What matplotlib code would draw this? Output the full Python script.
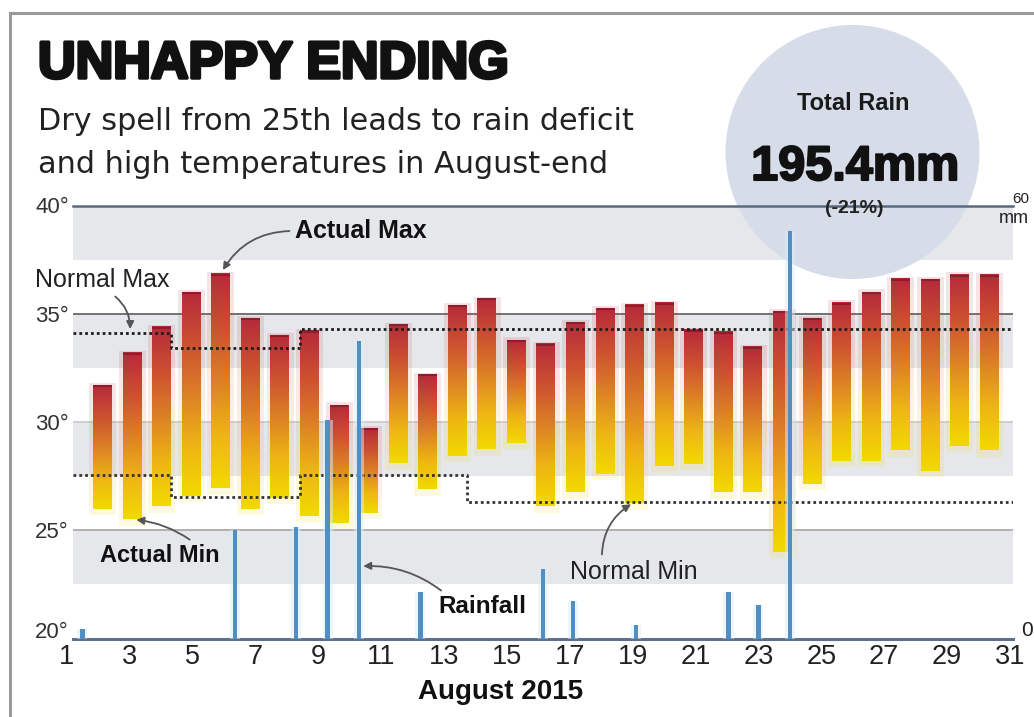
import numpy as np
import matplotlib.pyplot as plt
import matplotlib.patheffects as pe
from matplotlib.colors import LinearSegmentedColormap
from matplotlib.patches import Circle
from matplotlib.lines import Line2D
from matplotlib.transforms import ScaledTranslation

# daily max / min temperature (deg C), August 2015
days = np.arange(1, 32)
t_max = [31.7, 33.2, 34.4, 36.0, 36.85, 34.8, 34.0, 34.2, 30.8, 29.7, 34.5, 32.2, 35.4, 35.7,
         33.8, 33.6, 34.6, 35.25, 35.4, 35.5, 34.25, 34.15, 33.45, 35.1, 34.8, 35.5, 36.0,
         36.6, 36.6, 36.8, 36.8]
t_min = [26.0, 25.5, 26.1, 26.6, 26.95, 26.0, 26.5, 25.65, 25.35, 25.8, 28.1, 26.9, 28.45, 28.75,
         29.05, 26.1, 26.75, 27.6, 26.25, 27.95, 28.05, 26.75, 26.75, 24.0, 27.15, 28.2, 28.2,
         28.7, 27.75, 28.9, 28.7]

# normal max / min, as runs of days
nmax_start = [1, 4, 8]
nmax_end = [3, 7, 31]
nmax_val = [34.1, 33.4, 34.3]
nmin_start = [1, 4, 8, 14]
nmin_end = [3, 7, 13, 31]
nmin_val = [27.55, 26.55, 27.55, 26.3]

# rainfall (mm), placed on the date axis as drawn
rain_day = [1.5, 6.35, 8.3, 9.3, 10.3, 12.25, 16.15, 17.1, 19.1, 22.05, 23.0, 24.0]
rain_mm = [1.3, 15.1, 15.5, 30.3, 41.2, 6.4, 9.6, 5.2, 1.9, 6.4, 4.7, 56.4]

xtick_days = list(range(1, 32, 2))
temp_ticks = [20, 25, 30, 35, 40]
bands = [(22.5, 25), (27.5, 30), (32.5, 35), (37.5, 40)]

bold = 'Liberation Sans'

W, H = 1034, 717
fig = plt.figure(figsize=(W / 100, H / 100), dpi=100)
fig.patch.set_facecolor('white')


def box(left, top, right, bottom):
    return [left / W, 1 - bottom / H, (right - left) / W, (bottom - top) / H]


def ftext(x, y, s, **kw):
    return fig.text(x / W, 1 - y / H, s, **kw)


ax = fig.add_axes(box(73, 205.5, 1013, 638.5))
ax_r = fig.add_axes(box(60.4, 205.5, 1016.2, 638.5))
ax_r.set_zorder(1)
ax_r.patch.set_visible(False)

# background bands and lines
for lo, hi in bands:
    ax.axhspan(lo, hi, color='#e6e7ea', lw=0, zorder=0)
ax.axhline(40, color='#5b6a80', lw=1.8, zorder=1.5, clip_on=False)
ax.axhline(35, color='#727272', lw=1.4, zorder=1.5)
ax.axhline(30, color='#cfcfcf', lw=1.4, zorder=1.5)
ax.axhline(25, color='#b0b0b0', lw=1.4, zorder=1.5)
ax.axhline(20, color='#5d7288', lw=2.2, zorder=5, clip_on=False)

# total rain bubble
bubble = Circle((8.525, (H - 152) / 100), 1.27, transform=fig.dpi_scale_trans,
                facecolor='#d6dce8', edgecolor='none', zorder=1, clip_on=False)
ax.add_artist(bubble)

# gradient temperature bars
cmap = LinearSegmentedColormap.from_list(
    'heat', ['#f2da00', '#eeb414', '#dc8026', '#cc5030', '#b52a3a'])
grad = np.linspace(0, 1, 256).reshape(-1, 1)
bw = 0.64
for d, lo, hi in zip(days, t_min, t_max):
    ax.imshow(grad, extent=[d - bw / 2 - 0.13, d + bw / 2 + 0.13, lo - 0.3, hi + 0.08],
              origin='lower', cmap=cmap, aspect='auto', alpha=0.13, zorder=2.5)
    ax.imshow(grad, extent=[d - bw / 2, d + bw / 2, lo, hi],
              origin='lower', cmap=cmap, aspect='auto', zorder=3)
    ax.plot([d - bw / 2, d + bw / 2], [hi - 0.04, hi - 0.04], color='#8e1e2c', lw=1.5,
            solid_capstyle='butt', zorder=3.1)


def step_line(starts, ends, vals):
    xs, ys = [], []
    for i in range(len(vals)):
        x0 = 0 if i == 0 else xs[-1]
        if i == len(vals) - 1:
            x1 = 31.8
        else:
            a = ends[i]
            x1 = a + bw / 2 if vals[i + 1] < vals[i] else a + 1 - bw / 2
        xs += [x0, x1]
        ys += [vals[i], vals[i]]
    return xs, ys


for st, en, vals, col in [(nmax_start, nmax_end, nmax_val, '#1e1e1e'),
                          (nmin_start, nmin_end, nmin_val, '#333333')]:
    xs, ys = step_line(st, en, vals)
    ax.plot(xs, ys, color=col, lw=2, linestyle=(0, (1, 1.1)), dash_capstyle='butt', zorder=4)

ax.set_xlim(0, 31.8)
ax.set_ylim(20, 40)
ax.set_xticks([])
ax.set_yticks(temp_ticks)
ax.set_yticklabels([f'{t}°' for t in temp_ticks], family=bold, fontsize=16, color='#333')
ax.tick_params(axis='y', length=0, pad=3)
# lift the bottom label clear of the day numbers
lbl20 = ax.get_yticklabels()[0]
lbl20.set_transform(lbl20.get_transform() + ScaledTranslation(0, 8 / 100, fig.dpi_scale_trans))
for s in ax.spines.values():
    s.set_visible(False)

# rainfall
ax_r.bar(rain_day, rain_mm, width=0.32, color='#dbeef9', alpha=0.5, lw=0, zorder=2)
ax_r.bar(rain_day, rain_mm, width=0.14, color='#4f8fc4', lw=0, zorder=3)
ax_r.set_xlim(0.8, 31.2)
ax_r.set_ylim(0, 60)
ax_r.set_yticks([])
ax_r.set_xticks(xtick_days)
ax_r.set_xticklabels([str(d) for d in xtick_days], family=bold, fontsize=19.5, color='#222')
ax_r.tick_params(axis='x', length=0, pad=4)
for s in ax_r.spines.values():
    s.set_visible(False)

# frame
fig.add_artist(Line2D([10 / W, 10 / W], [1 - 13 / H, 0], color='#999', lw=2.2))
fig.add_artist(Line2D([10 / W, 1], [1 - 13 / H, 1 - 13 / H], color='#999', lw=2.2))

# headline
ftext(38, 78, 'UNHAPPY ENDING', family=bold, fontweight='bold', fontsize=37.5, color='#111',
      va='baseline', path_effects=[pe.withStroke(linewidth=2.5, foreground='#111')])
ftext(38, 130, 'Dry spell from 25th leads to rain deficit', family='DejaVu Sans',
      fontsize=21.8, color='#222', va='baseline')
ftext(38, 173, 'and high temperatures in August-end', family='DejaVu Sans',
      fontsize=21.8, color='#222', va='baseline')

ftext(853, 110, 'Total Rain', family=bold, fontweight='bold', fontsize=17, color='#1a1a1a',
      ha='center', va='baseline')
ftext(855, 180, '195.4mm', family=bold, fontweight='bold', fontsize=35, color='#111',
      ha='center', va='baseline', path_effects=[pe.withStroke(linewidth=1.5, foreground='#111')])
ftext(854, 213, '(-21%)', family=bold, fontweight='bold', fontsize=14, color='#222',
      ha='center', va='baseline')

ftext(1012, 203, '60', family=bold, fontsize=11, color='#222', va='baseline')
ftext(999, 223, 'mm', family=bold, fontsize=13, color='#222', va='baseline')
ftext(1021, 636, '0', family=bold, fontsize=15, color='#222', va='baseline')

ftext(418, 699, 'August 2015', family=bold, fontweight='bold', fontsize=20, color='#111',
      va='baseline')

# callouts
arrow = dict(arrowstyle='-|>', color='#555', lw=1.3, mutation_scale=11, shrinkA=2, shrinkB=3)
ax.annotate('Actual Max', xy=(5, t_max[4]), xytext=(295, H - 238), textcoords='figure pixels',
            family=bold, fontweight='bold', fontsize=18, color='#111', va='baseline',
            arrowprops=dict(arrow, connectionstyle='arc3,rad=0.3', relpos=(0, 0.5)))
ax.annotate('Normal Max', xy=(1.93, nmax_val[0]), xytext=(35, H - 287), textcoords='figure pixels',
            family=bold, fontsize=18, color='#222', va='baseline',
            arrowprops=dict(arrow, connectionstyle='arc3,rad=-0.3', relpos=(0.55, 0)))
ax.annotate('Actual Min', xy=(2, t_min[1]), xytext=(100, H - 562), textcoords='figure pixels',
            family=bold, fontweight='bold', fontsize=17, color='#111', va='baseline',
            arrowprops=dict(arrow, connectionstyle='arc3,rad=0.15', relpos=(0.8, 1)))
ax.annotate('Normal Min', xy=(19.0, nmin_val[3]), xytext=(570, H - 579), textcoords='figure pixels',
            family=bold, fontsize=18, color='#222', va='baseline',
            arrowprops=dict(arrow, connectionstyle='arc3,rad=-0.3', relpos=(0.25, 1)))
ax_r.annotate('Rainfall', xy=(rain_day[4], 10), xytext=(438, H - 613), textcoords='figure pixels',
              family=bold, fontweight='bold', fontsize=17.5, color='#111', va='baseline',
              arrowprops=dict(arrow, connectionstyle='arc3,rad=0.2', relpos=(0.1, 1)))

fig.savefig('out.png', dpi=100)
